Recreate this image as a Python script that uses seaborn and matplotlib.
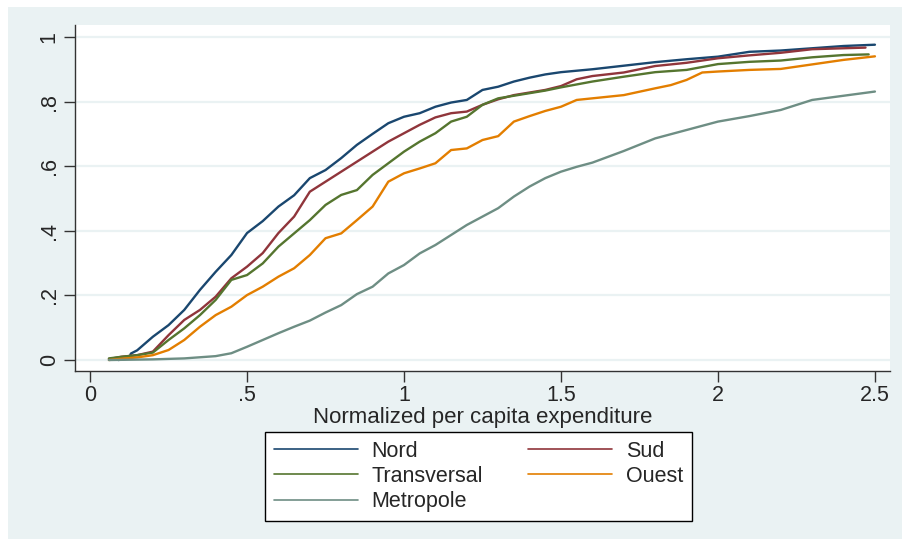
import matplotlib
matplotlib.use("Agg")
import matplotlib.pyplot as plt
import numpy as np
import pandas as pd
import seaborn as sns
from matplotlib.lines import Line2D
from matplotlib.patches import Rectangle

sns.set_style("white")
plt.rcParams["font.family"] = ["Liberation Sans", "DejaVu Sans"]

# cumulative distributions
nord_x = [0.09, 0.125, 0.13, 0.15, 0.2, 0.25, 0.3, 0.35, 0.4, 0.45, 0.5, 0.55, 0.6, 0.65,
          0.7, 0.75, 0.8, 0.85, 0.9, 0.95, 1.0, 1.05, 1.1, 1.15, 1.2, 1.25, 1.3, 1.35,
          1.4, 1.45, 1.5, 1.6, 1.7, 1.8, 1.9, 2.0, 2.1, 2.2, 2.3, 2.4, 2.5]
nord_y = [0.0, 0.005, 0.02, 0.03, 0.072, 0.108, 0.155, 0.217, 0.273, 0.325, 0.393, 0.43,
          0.475, 0.51, 0.563, 0.588, 0.625, 0.666, 0.70, 0.733, 0.753, 0.764, 0.784,
          0.797, 0.805, 0.836, 0.846, 0.862, 0.874, 0.884, 0.891, 0.90, 0.911, 0.922,
          0.931, 0.939, 0.954, 0.958, 0.965, 0.972, 0.976]

sud_x = [0.06, 0.1, 0.15, 0.2, 0.25, 0.3, 0.35, 0.4, 0.45, 0.5, 0.55, 0.6, 0.65, 0.7,
         0.75, 0.8, 0.85, 0.9, 0.95, 1.0, 1.05, 1.1, 1.15, 1.2, 1.25, 1.3, 1.35, 1.4,
         1.45, 1.5, 1.55, 1.6, 1.7, 1.8, 1.9, 2.0, 2.1, 2.2, 2.3, 2.4, 2.47]
sud_y = [0.003, 0.01, 0.015, 0.026, 0.077, 0.124, 0.155, 0.196, 0.253, 0.289, 0.331,
         0.393, 0.444, 0.521, 0.552, 0.583, 0.614, 0.645, 0.676, 0.702, 0.728, 0.751,
         0.764, 0.769, 0.79, 0.807, 0.82, 0.828, 0.836, 0.848, 0.869, 0.879, 0.89, 0.91,
         0.92, 0.934, 0.943, 0.951, 0.962, 0.965, 0.967]

trans_x = [0.06, 0.1, 0.15, 0.2, 0.25, 0.3, 0.35, 0.4, 0.45, 0.5, 0.55, 0.6, 0.65, 0.7,
           0.75, 0.8, 0.85, 0.9, 0.95, 1.0, 1.05, 1.1, 1.15, 1.2, 1.25, 1.3, 1.35, 1.4,
           1.45, 1.5, 1.6, 1.7, 1.8, 1.9, 2.0, 2.1, 2.2, 2.3, 2.4, 2.48]
trans_y = [0.005, 0.01, 0.015, 0.023, 0.062, 0.098, 0.139, 0.186, 0.248, 0.263, 0.299,
           0.351, 0.392, 0.433, 0.48, 0.511, 0.526, 0.573, 0.609, 0.645, 0.676, 0.702,
           0.738, 0.753, 0.79, 0.81, 0.818, 0.826, 0.834, 0.844, 0.862, 0.877, 0.891,
           0.898, 0.916, 0.923, 0.927, 0.937, 0.944, 0.946]

ouest_x = [0.06, 0.1, 0.15, 0.2, 0.25, 0.3, 0.35, 0.4, 0.45, 0.5, 0.55, 0.6, 0.65, 0.7,
           0.75, 0.8, 0.85, 0.9, 0.95, 1.0, 1.05, 1.1, 1.15, 1.2, 1.25, 1.3, 1.35, 1.4,
           1.45, 1.5, 1.55, 1.6, 1.7, 1.8, 1.85, 1.9, 1.95, 2.0, 2.1, 2.2, 2.3, 2.4, 2.5]
ouest_y = [0.0, 0.004, 0.008, 0.015, 0.031, 0.062, 0.103, 0.139, 0.165, 0.201, 0.227,
           0.258, 0.284, 0.325, 0.377, 0.392, 0.433, 0.475, 0.552, 0.578, 0.593, 0.609,
           0.65, 0.655, 0.681, 0.693, 0.738, 0.755, 0.771, 0.784, 0.805, 0.81, 0.82,
           0.841, 0.851, 0.867, 0.89, 0.893, 0.898, 0.901, 0.915, 0.929, 0.94]

metro_x = [0.06, 0.2, 0.3, 0.4, 0.45, 0.5, 0.55, 0.6, 0.65, 0.7, 0.75, 0.8, 0.85, 0.9,
           0.95, 1.0, 1.05, 1.1, 1.15, 1.2, 1.25, 1.3, 1.35, 1.4, 1.45, 1.5, 1.55, 1.6,
           1.7, 1.8, 1.9, 2.0, 2.1, 2.2, 2.3, 2.4, 2.5]
metro_y = [0.0, 0.002, 0.005, 0.012, 0.021, 0.041, 0.062, 0.083, 0.103, 0.122, 0.147,
           0.17, 0.204, 0.227, 0.268, 0.294, 0.33, 0.356, 0.387, 0.418, 0.444, 0.47,
           0.506, 0.537, 0.563, 0.583, 0.598, 0.611, 0.647, 0.686, 0.712, 0.738, 0.755,
           0.774, 0.805, 0.818, 0.831]

regions = ["Nord", "Sud", "Transversal", "Ouest", "Metropole"]
colors = {"Nord": "#1a476f", "Sud": "#90353b", "Transversal": "#55752f",
          "Ouest": "#e37e00", "Metropole": "#6e8e84"}
series = {"Nord": (nord_x, nord_y), "Sud": (sud_x, sud_y), "Transversal": (trans_x, trans_y),
          "Ouest": (ouest_x, ouest_y), "Metropole": (metro_x, metro_y)}

df = pd.concat(
    [pd.DataFrame({"x": sx, "y": sy, "region": name}) for name, (sx, sy) in series.items()],
    ignore_index=True,
)

fig = plt.figure(figsize=(9.02, 5.39), dpi=100)
fig.patch.set_facecolor("white")
fig.patches.append(Rectangle((8 / 902, 0), 894 / 902, 532 / 539, transform=fig.transFigure,
                             facecolor="#eaf2f3", edgecolor="none", zorder=-1))

ax = fig.add_axes([75 / 902, 1 - 371 / 539, 815 / 902, 346 / 539])
ax.set_facecolor("white")

sns.lineplot(data=df, x="x", y="y", hue="region", hue_order=regions, palette=colors,
             estimator=None, sort=False, lw=1.7, legend=False, ax=ax)

ax.set_xlim(-0.048, 2.548)
ax.set_ylim(-0.034, 1.037)
ax.set_xticks([0, 0.5, 1, 1.5, 2, 2.5])
ax.set_xticklabels(["0", ".5", "1", "1.5", "2", "2.5"], fontsize=15.5)
ax.set_yticks([0, 0.2, 0.4, 0.6, 0.8, 1])
ax.set_yticklabels(["0", ".2", ".4", ".6", ".8", "1"], fontsize=15.5, rotation=90, va="center")
ax.tick_params(direction="out", length=8, width=1, color="#333333", pad=3, left=True, bottom=True)
ax.tick_params(axis="x", pad=2)
ax.yaxis.grid(True, color="#eaf2f3", lw=1.6)
ax.set_axisbelow(True)
for side in ["top", "right"]:
    ax.spines[side].set_visible(False)
for side in ["left", "bottom"]:
    ax.spines[side].set_color("#333333")
    ax.spines[side].set_linewidth(1)
ax.set_xlabel("Normalized per capita expenditure", fontsize=16, labelpad=0.5)
ax.set_ylabel("")

order = ["Nord", "Transversal", "Metropole", "Sud", "Ouest"]
handles = [Line2D([], [], color=colors[r], lw=1.2) for r in order]
leg = fig.legend(handles, order, ncol=2, loc="upper left",
                 bbox_to_anchor=(265 / 902, 1 - 432 / 539),
                 fontsize=15.5, handlelength=3.9, handletextpad=0.65, columnspacing=2.1,
                 labelspacing=0.2, borderpad=0.4, borderaxespad=0, fancybox=False,
                 framealpha=1, edgecolor="black")
leg.get_frame().set_linewidth(1)

fig.savefig("out.png", dpi=100)
